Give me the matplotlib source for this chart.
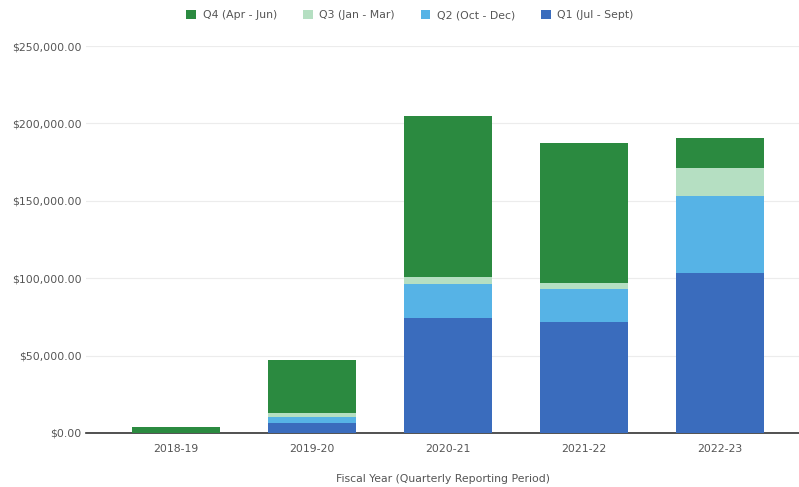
import matplotlib
matplotlib.use("Agg")
import matplotlib.pyplot as plt
from matplotlib.ticker import FuncFormatter

years = ["2018-19", "2019-20", "2020-21", "2021-22", "2022-23"]
q1 = [0, 6500, 74300, 71700, 103400]
q2 = [0, 3800, 22000, 21300, 49700]
q3 = [0, 2600, 4500, 3900, 18100]
q4 = [3900, 34300, 104000, 90400, 19400]

series = [
    ("Q1 (Jul - Sept)", q1, "#3a6cbd"),
    ("Q2 (Oct - Dec)", q2, "#56b3e6"),
    ("Q3 (Jan - Mar)", q3, "#b5dfc2"),
    ("Q4 (Apr - Jun)", q4, "#2b8a40"),
]


def main():
    fig = plt.figure(figsize=(7.99, 4.87), dpi=100)
    ax = fig.add_axes([86 / 799, 54 / 487, 713 / 799, 387 / 487])

    x = range(len(years))
    bottom = [0] * len(years)
    handles = {}
    for name, vals, color in series:
        bars = ax.bar(x, vals, width=0.65, bottom=bottom, color=color,
                      label=name, zorder=3)
        handles[name] = bars
        bottom = [b + v for b, v in zip(bottom, vals)]

    ax.set_ylim(0, 250000)
    ax.set_xlim(-0.66, 4.58)
    ax.set_yticks(range(0, 250001, 50000))
    ax.yaxis.set_major_formatter(FuncFormatter(lambda v, p: "${:,.2f}".format(v)))
    ax.set_xticks(list(x))
    ax.set_xticklabels(years)
    ax.grid(axis="y", color="#ececec", linewidth=0.8, zorder=0)

    for side in ["top", "right", "left"]:
        ax.spines[side].set_visible(False)
    ax.spines["bottom"].set_color("#333333")
    ax.spines["bottom"].set_linewidth(1.2)
    ax.tick_params(axis="both", length=0, labelsize=7.8, labelcolor="#555555")
    ax.tick_params(axis="y", pad=3)
    ax.tick_params(axis="x", pad=8)

    ax.set_xlabel("Fiscal Year (Quarterly Reporting Period)", fontsize=7.8,
                  color="#555555", labelpad=14)

    order = ["Q4 (Apr - Jun)", "Q3 (Jan - Mar)", "Q2 (Oct - Dec)", "Q1 (Jul - Sept)"]
    fig.legend([handles[n] for n in order], order, loc="center",
               bbox_to_anchor=(410 / 799, 1 - 15 / 487), ncol=4, frameon=False,
               fontsize=7.8, labelcolor="#555555", handlelength=0.9,
               handleheight=0.9, handletextpad=0.6, columnspacing=2.4)

    fig.savefig("out.png", dpi=100, facecolor="white")


if __name__ == "__main__":
    main()
